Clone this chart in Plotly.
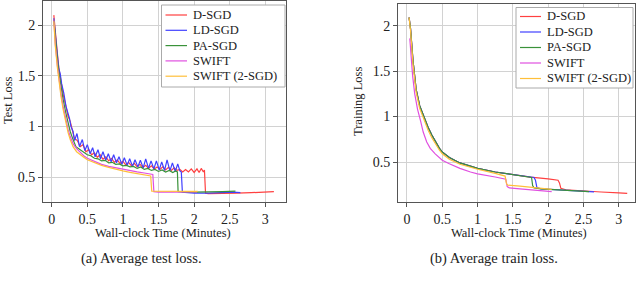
import plotly.graph_objects as go

# ---------------- data ----------------
series_names = ["D-SGD", "LD-SGD", "PA-SGD", "SWIFT", "SWIFT (2-SGD)"]
series_colors = ["#ff4040", "#4040ff", "#3a923a", "#e050e0", "#ffbf3a"]

# Test loss (left panel)
test_dsgd_t = [0.03, 0.05, 0.08, 0.1, 0.13, 0.16, 0.2, 0.23, 0.26, 0.29, 0.32, 0.36, 0.4, 0.44, 0.48, 0.52,
               0.56, 0.6, 0.64, 0.68, 0.72, 0.76, 0.8, 0.84, 0.88, 0.92, 0.96, 1.0, 1.04, 1.08, 1.12, 1.16,
               1.2, 1.24, 1.28, 1.32, 1.36, 1.4, 1.44, 1.48, 1.52, 1.56, 1.6, 1.64, 1.68, 1.72, 1.76, 1.8,
               1.84, 1.88, 1.92, 1.96, 2.0, 2.04, 2.07, 2.1, 2.13, 2.145, 2.16, 2.2, 2.4, 2.6, 2.8, 3.0, 3.12]
test_dsgd_v = [2.1, 1.92, 1.72, 1.58, 1.45, 1.32, 1.2, 1.1, 1.05, 0.95, 0.88, 0.86, 0.8, 0.82, 0.75, 0.77,
               0.72, 0.74, 0.695, 0.72, 0.675, 0.7, 0.66, 0.685, 0.645, 0.67, 0.635, 0.655, 0.62, 0.645, 0.61, 0.635,
               0.6, 0.625, 0.595, 0.615, 0.585, 0.61, 0.58, 0.6, 0.575, 0.6, 0.57, 0.595, 0.565, 0.59, 0.565, 0.575,
               0.55, 0.575, 0.55, 0.58, 0.545, 0.58, 0.545, 0.585, 0.55, 0.57, 0.34, 0.335, 0.335, 0.34, 0.345, 0.35, 0.355]

test_ldsgd_t = [0.03, 0.05, 0.08, 0.1, 0.12, 0.14, 0.17, 0.2, 0.22, 0.25, 0.27, 0.3, 0.32, 0.355, 0.39, 0.43,
                0.465, 0.5, 0.54, 0.575, 0.61, 0.65, 0.685, 0.72, 0.76, 0.795, 0.835, 0.87, 0.91, 0.945, 0.985,
                1.02, 1.06, 1.095, 1.135, 1.17, 1.21, 1.245, 1.285, 1.32, 1.36, 1.395, 1.435, 1.47, 1.51, 1.545,
                1.585, 1.62, 1.66, 1.695, 1.735, 1.77, 1.8, 1.82, 1.835, 1.9, 2.0, 2.2, 2.4, 2.55, 2.65]
test_ldsgd_v = [2.07, 1.9, 1.7, 1.57, 1.52, 1.42, 1.33, 1.2, 1.15, 1.08, 1.0, 0.95, 0.86, 0.93, 0.8, 0.87,
                0.76, 0.82, 0.73, 0.79, 0.7, 0.77, 0.68, 0.75, 0.665, 0.73, 0.65, 0.72, 0.64, 0.7, 0.625,
                0.69, 0.615, 0.68, 0.605, 0.67, 0.6, 0.665, 0.59, 0.68, 0.585, 0.66, 0.58, 0.66, 0.57, 0.65,
                0.565, 0.67, 0.56, 0.64, 0.555, 0.63, 0.56, 0.55, 0.35, 0.345, 0.34, 0.34, 0.345, 0.35, 0.345]

test_pasgd_t = [0.03, 0.05, 0.08, 0.1, 0.13, 0.16, 0.2, 0.23, 0.26, 0.3, 0.34, 0.38, 0.42, 0.46, 0.5, 0.55,
                0.6, 0.65, 0.7, 0.75, 0.8, 0.85, 0.9, 0.95, 1.0, 1.05, 1.1, 1.15, 1.2, 1.25, 1.3, 1.35, 1.4,
                1.45, 1.5, 1.55, 1.6, 1.65, 1.7, 1.74, 1.765, 1.775, 1.85, 2.0, 2.2, 2.4, 2.58]
test_pasgd_v = [2.06, 1.87, 1.66, 1.54, 1.4, 1.27, 1.13, 1.04, 0.95, 0.87, 0.8, 0.78, 0.76, 0.745, 0.72, 0.71,
                0.685, 0.68, 0.66, 0.665, 0.64, 0.645, 0.625, 0.63, 0.61, 0.615, 0.6, 0.605, 0.585, 0.6, 0.575, 0.585, 0.565,
                0.575, 0.555, 0.57, 0.55, 0.565, 0.545, 0.56, 0.55, 0.355, 0.35, 0.35, 0.35, 0.355, 0.36]

test_swift_t = [0.03, 0.05, 0.08, 0.1, 0.13, 0.16, 0.2, 0.23, 0.26, 0.3, 0.35, 0.4, 0.45, 0.5, 0.55, 0.6,
                0.7, 0.8, 0.9, 1.0, 1.1, 1.2, 1.3, 1.4, 1.42, 1.435, 1.5, 1.7, 1.9, 2.04]
test_swift_v = [2.06, 1.82, 1.6, 1.48, 1.33, 1.2, 1.06, 0.97, 0.9, 0.83, 0.78, 0.74, 0.71, 0.685, 0.67, 0.65,
                0.625, 0.605, 0.59, 0.575, 0.56, 0.55, 0.54, 0.53, 0.525, 0.355, 0.35, 0.35, 0.35, 0.352]

test_swift2_t = [0.03, 0.05, 0.08, 0.1, 0.13, 0.16, 0.2, 0.23, 0.26, 0.3, 0.35, 0.4, 0.45, 0.5, 0.55, 0.6,
                 0.7, 0.8, 0.9, 1.0, 1.1, 1.2, 1.3, 1.39, 1.405, 1.5, 1.7, 1.9, 2.05]
test_swift2_v = [2.04, 1.8, 1.58, 1.46, 1.3, 1.17, 1.03, 0.94, 0.87, 0.8, 0.75, 0.72, 0.695, 0.67, 0.655, 0.64,
                 0.615, 0.595, 0.575, 0.56, 0.545, 0.535, 0.52, 0.51, 0.36, 0.36, 0.36, 0.36, 0.358]

# Training loss (right panel)
train_dsgd_t = [0.03, 0.05, 0.085, 0.13, 0.18, 0.24, 0.3, 0.35, 0.4, 0.46, 0.5, 0.6, 0.75, 0.9, 1.0, 1.25,
                1.5, 1.75, 2.0, 2.14, 2.16, 2.18, 2.25, 2.5, 2.75, 3.0, 3.12]
train_dsgd_v = [2.09, 1.97, 1.62, 1.3, 1.12, 0.99, 0.88, 0.8, 0.73, 0.65, 0.61, 0.55, 0.49, 0.45, 0.43, 0.39,
                0.36, 0.333, 0.315, 0.3, 0.27, 0.21, 0.195, 0.18, 0.17, 0.16, 0.155]

train_ldsgd_t = [0.03, 0.05, 0.085, 0.13, 0.18, 0.24, 0.3, 0.35, 0.4, 0.46, 0.5, 0.6, 0.75, 0.9, 1.0, 1.25,
                 1.5, 1.75, 1.8, 1.82, 1.84, 1.9, 2.1, 2.3, 2.5, 2.65]
train_ldsgd_v = [2.09, 1.97, 1.62, 1.3, 1.12, 0.99, 0.88, 0.8, 0.73, 0.65, 0.61, 0.55, 0.49, 0.45, 0.43, 0.39,
                 0.36, 0.333, 0.33, 0.3, 0.22, 0.205, 0.195, 0.185, 0.178, 0.172]

train_pasgd_t = [0.03, 0.05, 0.085, 0.13, 0.18, 0.24, 0.3, 0.35, 0.4, 0.46, 0.5, 0.6, 0.75, 0.9, 1.0, 1.25,
                 1.5, 1.75, 1.765, 1.78, 1.8, 1.9, 2.1, 2.3, 2.58]
train_pasgd_v = [2.09, 1.97, 1.62, 1.3, 1.12, 0.99, 0.88, 0.8, 0.73, 0.65, 0.61, 0.55, 0.49, 0.45, 0.43, 0.39,
                 0.36, 0.333, 0.33, 0.24, 0.215, 0.205, 0.195, 0.185, 0.175]

train_swift_t = [0.04, 0.06, 0.08, 0.11, 0.15, 0.19, 0.23, 0.28, 0.33, 0.4, 0.5, 0.6, 0.75, 0.9, 1.0, 1.25,
                 1.4, 1.42, 1.45, 1.6, 1.8, 2.05]
train_swift_v = [1.86, 1.62, 1.45, 1.25, 1.08, 0.96, 0.83, 0.72, 0.65, 0.59, 0.52, 0.48, 0.43, 0.39, 0.37, 0.335,
                 0.31, 0.23, 0.215, 0.205, 0.19, 0.175]

train_swift2_t = [0.03, 0.05, 0.085, 0.13, 0.18, 0.24, 0.3, 0.35, 0.4, 0.46, 0.5, 0.6, 0.75, 0.9, 1.0, 1.25,
                  1.39, 1.41, 1.43, 1.6, 1.8, 2.05]
train_swift2_v = [2.09, 1.95, 1.58, 1.27, 1.09, 0.96, 0.85, 0.77, 0.7, 0.63, 0.59, 0.53, 0.475, 0.44, 0.42, 0.375,
                  0.345, 0.26, 0.245, 0.235, 0.22, 0.2]

x_ticks = [0, 0.5, 1, 1.5, 2, 2.5, 3]
x_tick_labels = ["0", "0.5", "1", "1.5", "2", "2.5", "3"]
y_ticks = [0.5, 1, 1.5, 2]
y_tick_labels = ["0.5", "1", "1.5", "2"]

test_series = [(test_dsgd_t, test_dsgd_v), (test_ldsgd_t, test_ldsgd_v), (test_pasgd_t, test_pasgd_v),
               (test_swift_t, test_swift_v), (test_swift2_t, test_swift2_v)]
train_series = [(train_dsgd_t, train_dsgd_v), (train_ldsgd_t, train_ldsgd_v), (train_pasgd_t, train_pasgd_v),
                (train_swift_t, train_swift_v), (train_swift2_t, train_swift2_v)]

# ---------------- figure ----------------
W, H = 640, 287
FONT = "Liberation Serif"
TXT = "#222222"
fig = go.Figure()

for name, color, (t, v) in zip(series_names, series_colors, test_series):
    fig.add_trace(go.Scatter(x=t, y=v, mode="lines", name=name, line=dict(color=color, width=1.2),
                             xaxis="x", yaxis="y", showlegend=False))
for name, color, (t, v) in zip(series_names, series_colors, train_series):
    fig.add_trace(go.Scatter(x=t, y=v, mode="lines", name=name, line=dict(color=color, width=1.2),
                             xaxis="x2", yaxis="y2", showlegend=False))


def px_x(p):
    return p / W


def px_y(p):
    return 1 - p / H


axis_common = dict(showgrid=True, gridcolor="#d2d2d2", gridwidth=1, zeroline=False,
                   showline=True, linecolor="#555555", linewidth=1, mirror=True,
                   ticks="outside", ticklen=4, tickcolor="#555555",
                   tickfont=dict(family=FONT, size=14, color=TXT))

fig.update_layout(
    width=W, height=H, margin=dict(l=0, r=0, t=0, b=0),
    paper_bgcolor="white", plot_bgcolor="white",
    font=dict(family=FONT, color=TXT),
    showlegend=False,
    xaxis=dict(domain=[px_x(43), px_x(286)], range=[-0.122, 3.29], anchor="y",
               tickvals=x_ticks, ticktext=x_tick_labels, **axis_common),
    yaxis=dict(domain=[px_y(202), px_y(1)], range=[0.253, 2.24], anchor="x",
               tickvals=y_ticks, ticktext=y_tick_labels, **axis_common),
    xaxis2=dict(domain=[px_x(398), px_x(635)], range=[-0.127, 3.23], anchor="y2",
                tickvals=x_ticks, ticktext=x_tick_labels, **axis_common),
    yaxis2=dict(domain=[px_y(202), px_y(3.5)], range=[0.06, 2.244], anchor="x2",
                tickvals=y_ticks, ticktext=y_tick_labels, **axis_common),
)

# manual legends (pgfplots style: short line sample, text right of it)
legend_boxes = [
    dict(x0=161.5, x1=285, y0=5, y1=87, line_x0=165.5, line_x1=187, text_x=190.5,
         rows=[15, 30.3, 45.6, 60.9, 76.2]),
    dict(x0=516, x1=633, y0=7.5, y1=88, line_x0=520, line_x1=541, text_x=544.5,
         rows=[16.5, 32, 47.5, 63, 78.5]),
]
for lb in legend_boxes:
    fig.add_shape(type="rect", xref="paper", yref="paper",
                  x0=px_x(lb["x0"]), x1=px_x(lb["x1"]), y0=px_y(lb["y1"]), y1=px_y(lb["y0"]),
                  line=dict(color="#aaaaaa", width=1), fillcolor="white", layer="above")
    for name, color, row in zip(series_names, series_colors, lb["rows"]):
        fig.add_shape(type="line", xref="paper", yref="paper",
                      x0=px_x(lb["line_x0"]), x1=px_x(lb["line_x1"]), y0=px_y(row), y1=px_y(row),
                      line=dict(color=color, width=1.2), layer="above")
        fig.add_annotation(text=name, xref="paper", yref="paper", x=px_x(lb["text_x"]), y=px_y(row),
                           xanchor="left", yanchor="middle", showarrow=False,
                           font=dict(family=FONT, size=12.5, color=TXT))

ann_font = dict(family=FONT, size=12.5, color=TXT)
cap_font = dict(family=FONT, size=14.5, color=TXT)
annotations = [
    dict(text="Test Loss", x=px_x(8), y=px_y(100), textangle=-90, font=ann_font),
    dict(text="Training Loss", x=px_x(358), y=px_y(102), textangle=-90, font=ann_font),
    dict(text="Wall-clock Time (Minutes)", x=px_x(163), y=px_y(233), font=ann_font),
    dict(text="Wall-clock Time (Minutes)", x=px_x(519), y=px_y(233), font=ann_font),
    dict(text="(a) Average test loss.", x=px_x(141), y=px_y(258), font=cap_font),
    dict(text="(b) Average train loss.", x=px_x(494), y=px_y(258), font=cap_font),
]
for a in annotations:
    fig.add_annotation(xref="paper", yref="paper", showarrow=False, xanchor="center", yanchor="middle", **a)

fig.write_html("out.html", config={"displayModeBar": False},
               post_script="document.body.style.margin='0';document.body.style.padding='0';")
